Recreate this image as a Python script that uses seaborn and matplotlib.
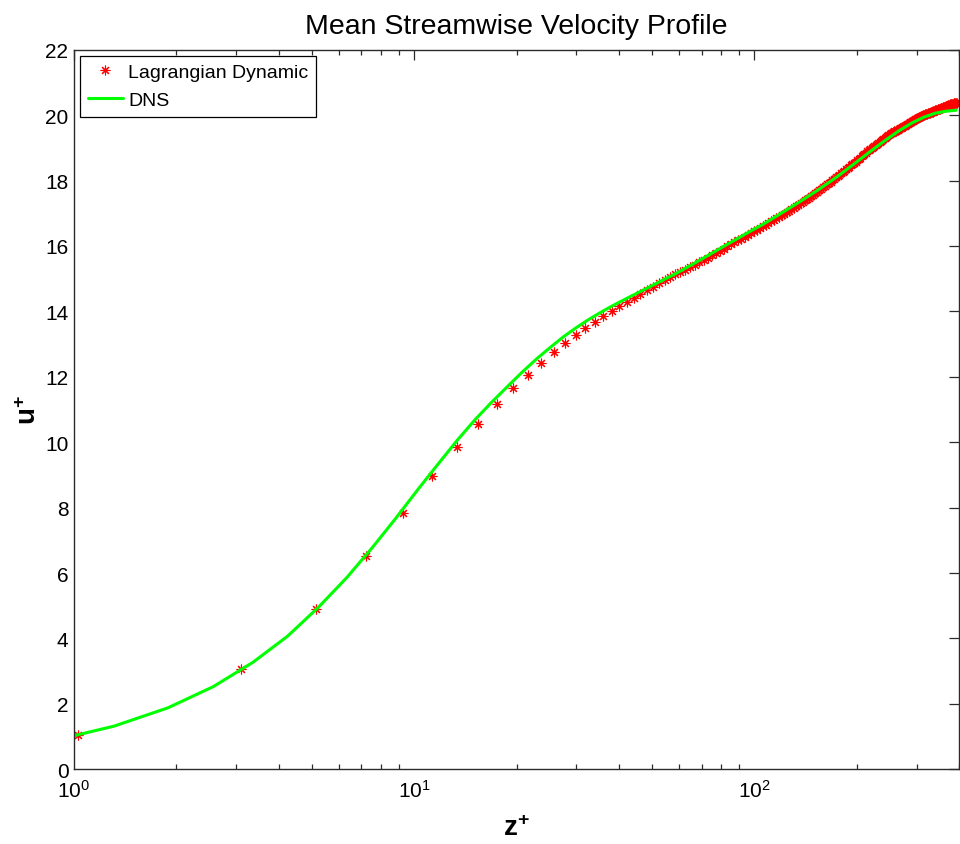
import matplotlib
matplotlib.use("Agg")
import matplotlib.pyplot as plt
import seaborn as sns
from matplotlib.ticker import LogLocator, FixedLocator

# ---------------- data ----------------
# Lagrangian dynamic LES: wall-normal grid positions z+ and mean velocity u+
z_les = [
    1.03, 3.09, 5.14, 7.20, 9.26, 11.32, 13.37, 15.43, 17.49, 19.54,
    21.60, 23.66, 25.72, 27.77, 29.83, 31.89, 33.95, 36.00, 38.06, 40.12,
    42.17, 44.23, 46.29, 48.35, 50.40, 52.46, 54.52, 56.58, 58.63, 60.69,
    62.75, 64.80, 66.86, 68.92, 70.98, 73.03, 75.09, 77.15, 79.21, 81.26,
    83.32, 85.38, 87.43, 89.49, 91.55, 93.61, 95.66, 97.72, 99.78, 101.84,
    103.89, 105.95, 108.01, 110.06, 112.12, 114.18, 116.24, 118.29, 120.35, 122.41,
    124.47, 126.52, 128.58, 130.64, 132.70, 134.75, 136.81, 138.87, 140.92, 142.98,
    145.04, 147.10, 149.15, 151.21, 153.27, 155.33, 157.38, 159.44, 161.50, 163.55,
    165.61, 167.67, 169.73, 171.78, 173.84, 175.90, 177.96, 180.01, 182.07, 184.13,
    186.19, 188.24, 190.30, 192.36, 194.41, 196.47, 198.53, 200.59, 202.64, 204.70,
    206.76, 208.82, 210.87, 212.93, 214.99, 217.04, 219.10, 221.16, 223.22, 225.27,
    227.33, 229.39, 231.45, 233.50, 235.56, 237.62, 239.68, 241.73, 243.79, 245.85,
    247.90, 249.96, 252.02, 254.08, 256.13, 258.19, 260.25, 262.31, 264.36, 266.42,
    268.48, 270.53, 272.59, 274.65, 276.71, 278.76, 280.82, 282.88, 284.94, 286.99,
    289.05, 291.11, 293.16, 295.22, 297.28, 299.34, 301.39, 303.45, 305.51, 307.57,
    309.62, 311.68, 313.74, 315.79, 317.85, 319.91, 321.97, 324.02, 326.08, 328.14,
    330.20, 332.25, 334.31, 336.37, 338.42, 340.48, 342.54, 344.60, 346.65, 348.71,
    350.77, 352.83, 354.88, 356.94, 359.00, 361.05, 363.11, 365.17, 367.23, 369.28,
    371.34, 373.40, 375.46, 377.51, 379.57, 381.63, 383.68, 385.74, 387.80, 389.86,
    391.91, 393.97,
]
u_les = [
    1.04, 3.06, 4.89, 6.51, 7.85, 8.97, 9.85, 10.56, 11.17, 11.66,
    12.07, 12.43, 12.77, 13.04, 13.28, 13.49, 13.68, 13.85, 14.02, 14.17,
    14.30, 14.42, 14.54, 14.65, 14.76, 14.87, 14.96, 15.05, 15.14, 15.21,
    15.28, 15.36, 15.43, 15.50, 15.57, 15.64, 15.71, 15.78, 15.85, 15.92,
    15.99, 16.05, 16.11, 16.17, 16.22, 16.28, 16.34, 16.39, 16.45, 16.50,
    16.55, 16.60, 16.65, 16.70, 16.75, 16.80, 16.84, 16.89, 16.94, 16.98,
    17.03, 17.07, 17.12, 17.16, 17.21, 17.25, 17.30, 17.34, 17.39, 17.43,
    17.48, 17.52, 17.57, 17.61, 17.65, 17.70, 17.74, 17.79, 17.83, 17.88,
    17.92, 17.96, 18.01, 18.05, 18.10, 18.14, 18.18, 18.22, 18.26, 18.30,
    18.34, 18.38, 18.42, 18.46, 18.50, 18.54, 18.58, 18.62, 18.66, 18.70,
    18.74, 18.78, 18.81, 18.85, 18.89, 18.93, 18.96, 19.00, 19.03, 19.06,
    19.09, 19.12, 19.15, 19.18, 19.21, 19.24, 19.27, 19.30, 19.33, 19.36,
    19.39, 19.42, 19.44, 19.46, 19.48, 19.50, 19.52, 19.54, 19.56, 19.58,
    19.60, 19.62, 19.64, 19.66, 19.68, 19.70, 19.72, 19.74, 19.76, 19.78,
    19.80, 19.82, 19.83, 19.85, 19.87, 19.88, 19.90, 19.92, 19.93, 19.95,
    19.96, 19.98, 19.99, 20.00, 20.02, 20.03, 20.04, 20.05, 20.07, 20.08,
    20.09, 20.10, 20.11, 20.13, 20.14, 20.15, 20.16, 20.17, 20.18, 20.19,
    20.20, 20.21, 20.22, 20.23, 20.24, 20.25, 20.26, 20.27, 20.28, 20.29,
    20.30, 20.31, 20.32, 20.33, 20.34, 20.35, 20.35, 20.36, 20.37, 20.37,
    20.38, 20.38,
]

# DNS reference profile (z+, u+)
z_dns = [
    0.840, 1.312, 1.889, 2.570, 3.356, 4.245, 5.239, 6.336, 7.537, 8.840,
    10.25, 11.755, 13.365, 15.077, 16.890, 18.803, 20.816, 22.929, 25.144, 27.454,
    29.857, 32.36, 34.963, 37.659, 40.451, 43.336, 46.32, 52.55, 59.15, 66.10,
    73.41, 81.05, 89.03, 97.34, 105.96, 114.89, 133.62, 153.46, 174.32, 196.12,
    218.76, 242.13, 266.16, 290.72, 315.72, 341.04, 366.59, 392.24,
]
u_dns = [
    0.84, 1.32, 1.88, 2.53, 3.27, 4.07, 4.96, 5.86, 6.78, 7.68,
    8.55, 9.33, 10.05, 10.68, 11.22, 11.70, 12.15, 12.55, 12.90, 13.22,
    13.49, 13.73, 13.94, 14.13, 14.30, 14.46, 14.61, 14.90, 15.17, 15.45,
    15.72, 15.98, 16.22, 16.45, 16.66, 16.88, 17.30, 17.70, 18.10, 18.50,
    18.88, 19.22, 19.52, 19.76, 19.94, 20.06, 20.12, 20.15,
]

y_ticks = [0, 2, 4, 6, 8, 10, 12, 14, 16, 18, 20, 22]

# ---------------- style ----------------
sns.set_theme(style="white")
plt.rcParams["font.family"] = ["Liberation Sans", "DejaVu Sans"]
plt.rcParams["mathtext.fontset"] = "custom"
plt.rcParams["mathtext.rm"] = "Liberation Sans"
plt.rcParams["mathtext.it"] = "Liberation Sans"
plt.rcParams["mathtext.bf"] = "Liberation Sans:bold"
plt.rcParams["text.color"] = "black"
plt.rcParams["axes.labelcolor"] = "black"
plt.rcParams["xtick.color"] = "black"
plt.rcParams["ytick.color"] = "black"

fig = plt.figure(figsize=(9.6, 8.45), dpi=100)
ax = fig.add_axes([0.0771, 0.0884, 0.9219, 0.8516])

sns.lineplot(x=z_les, y=u_les, ax=ax, estimator=None, sort=False,
             marker=(8, 2, 0), linestyle="", color="#ff0000",
             markersize=7, markeredgewidth=0.8, markeredgecolor="#ff0000",
             label="Lagrangian Dynamic")
sns.lineplot(x=z_dns, y=u_dns, ax=ax, estimator=None, sort=False,
             color="#00ff00", linewidth=2.2, label="DNS")

ax.set_xscale("log")
ax.set_xlim(1, 400)
ax.set_ylim(0, 22)
ax.yaxis.set_major_locator(FixedLocator(y_ticks))
ax.xaxis.set_major_locator(LogLocator(base=10, numticks=10))
ax.xaxis.set_minor_locator(LogLocator(base=10, subs=range(2, 10), numticks=20))

axis_col = "#2b2b2b"
for sp in ax.spines.values():
    sp.set_visible(True)
    sp.set_color(axis_col)
    sp.set_linewidth(1.0)

ax.tick_params(axis="both", which="major", direction="in", top=True, right=True,
               length=7, width=0.9, color=axis_col, labelsize=15, labelcolor="black")
ax.tick_params(axis="x", which="minor", direction="in", top=True, bottom=True,
               length=3.5, width=0.9, color=axis_col)
ax.tick_params(axis="y", which="major", pad=4)
ax.tick_params(axis="x", which="major", pad=7)

ax.set_title("Mean Streamwise Velocity Profile", fontsize=20.5, pad=12, color="black")
ax.set_xlabel(r"$\mathbf{z^{+}}$", fontsize=20, labelpad=10, color="black")
ax.set_ylabel(r"$\mathbf{u^{+}}$", fontsize=20, labelpad=2, color="black")

leg = ax.legend(loc="upper left", fontsize=14, frameon=True, fancybox=False,
                edgecolor="black", framealpha=1, borderaxespad=0.3,
                handlelength=1.8, borderpad=0.4, labelspacing=0.55,
                handletextpad=0.3)
leg.get_frame().set_linewidth(0.9)
for t in leg.get_texts():
    t.set_color("black")

fig.savefig("out.png", dpi=100, facecolor="white")
